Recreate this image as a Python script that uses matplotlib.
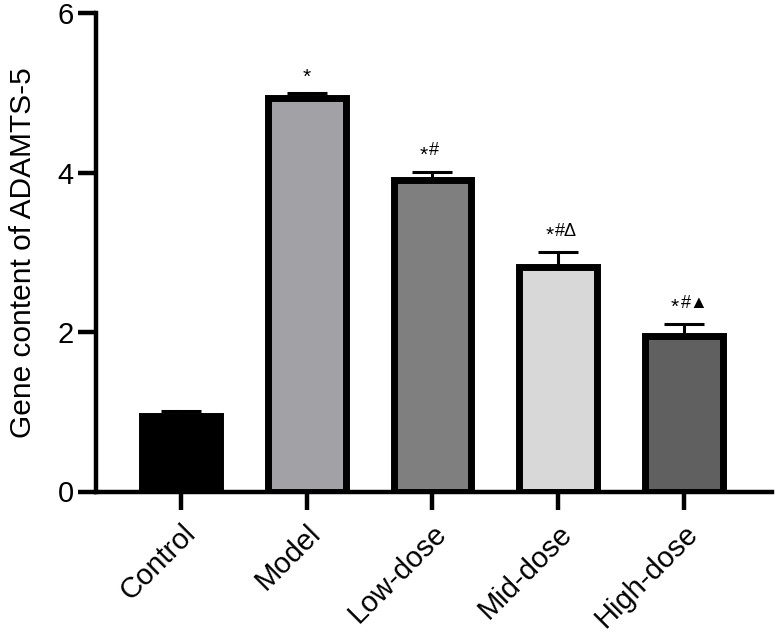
import matplotlib
matplotlib.use("Agg")
import matplotlib.pyplot as plt

plt.rcParams['font.family'] = ['Liberation Sans', 'DejaVu Sans']

categories = ["Control", "Model", "Low-dose", "Mid-dose", "High-dose"]
values = [0.95, 4.93, 3.91, 2.81, 1.95]
errors = [0.06, 0.07, 0.10, 0.19, 0.15]
fills = ["#000000", "#a2a2a6", "#7f7f7f", "#d8d8d8", "#606060"]
marks = ["", "*", "*#", "*#\u0394", "*#\u25B2"]
yticks = [0, 2, 4, 6]
ylabel = "Gene content of ADAMTS-5"

fig = plt.figure(figsize=(7.79, 6.32), dpi=100)
ax = fig.add_axes([96/779, 1-491.5/632, (772-96)/779, (491.5-13)/632])

x = list(range(len(categories)))
ax.errorbar(x, values, yerr=[[0]*len(errors), errors], fmt='none', ecolor='black',
            elinewidth=2.2, capsize=14.5, capthick=2.2, zorder=1)
ax.bar(x, values, width=0.62, color=fills, edgecolor='black', linewidth=5, zorder=2)

for xi, v, e, m in zip(x, values, errors, marks):
    if not m:
        continue
    star, rest = m[0], m[1:]
    if rest:
        ax.annotate(star, (xi, v + e), xytext=(-3.5, 5), textcoords='offset points',
                    ha='right', va='bottom', fontsize=15)
        ax.annotate(rest, (xi, v + e), xytext=(-2.5, 9), textcoords='offset points',
                    ha='left', va='bottom', fontsize=13)
    else:
        ax.annotate(star, (xi, v + e), xytext=(0, 4), textcoords='offset points',
                    ha='center', va='bottom', fontsize=15)

ax.set_xlim(-0.676, 4.70)
ax.set_ylim(0, 6)
ax.set_yticks(yticks)
ax.set_yticklabels([str(t) for t in yticks], fontsize=21)
ax.set_xticks(x)
ax.set_xticklabels(categories, fontsize=21, rotation=45, ha='right', va='top',
                   rotation_mode='anchor')
ax.set_ylabel(ylabel, fontsize=21.5, labelpad=15)

for s in ['top', 'right']:
    ax.spines[s].set_visible(False)
for s in ['left', 'bottom']:
    ax.spines[s].set_linewidth(3.2)
ax.tick_params(axis='both', direction='out', length=13, width=3.2)
ax.tick_params(axis='y', pad=3)
ax.tick_params(axis='x', pad=7)

fig.savefig("out.png", dpi=100)
